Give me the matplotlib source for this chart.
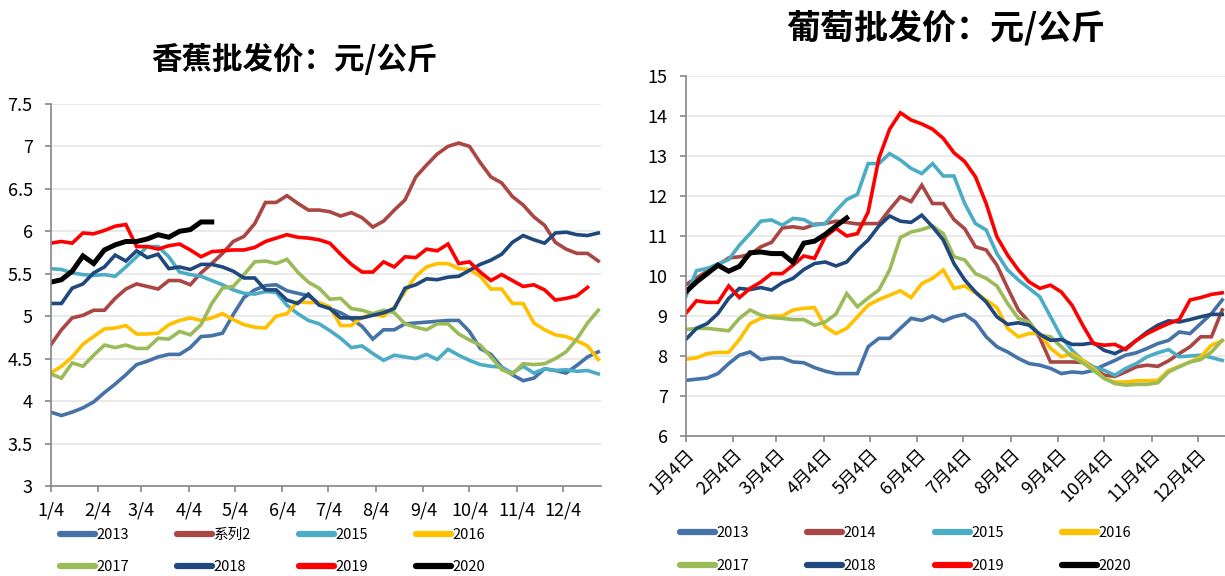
import numpy as np
import matplotlib.pyplot as plt
from matplotlib.ticker import FuncFormatter

plt.rcParams['font.family'] = ['Noto Sans CJK SC', 'DejaVu Sans']

# ---- data (weekly, starting at Jan 4) ----
years = ['2013', '2014', '2015', '2016', '2017', '2018', '2019', '2020']
banana_labels = ['2013', '系列2', '2015', '2016', '2017', '2018', '2019', '2020']
colors = ['#4572A7', '#AA4643', '#4BACC6', '#FFC000', '#9BBB59', '#1F497D', '#FF0000', '#000000']

month_days = [0, 31, 59, 90, 120, 151, 181, 212, 243, 273, 304, 334]
banana_ticks = ['1/4', '2/4', '3/4', '4/4', '5/4', '6/4', '7/4', '8/4', '9/4', '10/4', '11/4', '12/4']
grape_ticks = ['1月4日', '2月4日', '3月4日', '4月4日', '5月4日', '6月4日',
               '7月4日', '8月4日', '9月4日', '10月4日', '11月4日', '12月4日']

banana_2013 = [3.87, 3.83, 3.87, 3.92, 3.99, 4.10, 4.20, 4.31, 4.43, 4.47,
               4.52, 4.55, 4.55, 4.63, 4.76, 4.77, 4.80, 5.02, 5.22, 5.31,
               5.36, 5.37, 5.30, 5.27, 5.24, 5.15, 5.09, 5.04, 4.97, 4.88,
               4.73, 4.84, 4.84, 4.91, 4.92, 4.93, 4.94, 4.95, 4.95, 4.82,
               4.62, 4.55, 4.40, 4.31, 4.24, 4.27, 4.38, 4.36, 4.33, 4.42,
               4.52, 4.58]
banana_2014 = [4.66, 4.84, 4.98, 5.01, 5.07, 5.07, 5.21, 5.32, 5.38, 5.35,
               5.32, 5.42, 5.42, 5.37, 5.51, 5.62, 5.74, 5.88, 5.94, 6.09,
               6.34, 6.34, 6.42, 6.33, 6.25, 6.25, 6.23, 6.18, 6.22, 6.16,
               6.05, 6.12, 6.25, 6.37, 6.64, 6.78, 6.91, 7.00, 7.04, 7.00,
               6.81, 6.64, 6.57, 6.41, 6.31, 6.17, 6.07, 5.87, 5.79, 5.74,
               5.74, 5.65]
banana_2015 = [5.56, 5.55, 5.51, 5.49, 5.48, 5.49, 5.47, 5.58, 5.70, 5.82,
               5.82, 5.70, 5.52, 5.49, 5.47, 5.42, 5.37, 5.31, 5.27, 5.26,
               5.29, 5.28, 5.13, 5.03, 4.95, 4.91, 4.83, 4.74, 4.63, 4.65,
               4.56, 4.48, 4.54, 4.52, 4.50, 4.55, 4.49, 4.61, 4.54, 4.48,
               4.43, 4.41, 4.40, 4.33, 4.41, 4.33, 4.38, 4.36, 4.37, 4.35,
               4.36, 4.32]
banana_2016 = [4.33, 4.41, 4.52, 4.67, 4.76, 4.85, 4.86, 4.89, 4.79, 4.79,
               4.80, 4.90, 4.95, 4.98, 4.95, 4.98, 5.03, 4.96, 4.90, 4.87,
               4.86, 5.00, 5.03, 5.17, 5.16, 5.16, 5.11, 4.89, 4.89, 4.99,
               5.02, 5.00, 5.11, 5.29, 5.47, 5.58, 5.62, 5.62, 5.56, 5.55,
               5.47, 5.32, 5.32, 5.15, 5.15, 4.92, 4.84, 4.78, 4.76, 4.71,
               4.65, 4.49]
banana_2017 = [4.32, 4.27, 4.45, 4.41, 4.54, 4.66, 4.63, 4.66, 4.62, 4.62,
               4.74, 4.73, 4.82, 4.78, 4.90, 5.15, 5.33, 5.35, 5.49, 5.64,
               5.65, 5.62, 5.67, 5.52, 5.40, 5.33, 5.20, 5.21, 5.09, 5.07,
               5.03, 5.07, 5.04, 4.91, 4.87, 4.84, 4.91, 4.91, 4.79, 4.72,
               4.66, 4.52, 4.37, 4.32, 4.44, 4.43, 4.44, 4.50, 4.58, 4.73,
               4.92, 5.07]
banana_2018 = [5.15, 5.15, 5.33, 5.38, 5.51, 5.58, 5.72, 5.65, 5.77, 5.69,
               5.73, 5.56, 5.58, 5.55, 5.61, 5.61, 5.58, 5.53, 5.45, 5.45,
               5.31, 5.31, 5.19, 5.15, 5.26, 5.13, 5.09, 4.98, 4.98, 4.98,
               5.01, 5.04, 5.09, 5.33, 5.37, 5.44, 5.43, 5.46, 5.47, 5.54,
               5.61, 5.66, 5.73, 5.87, 5.95, 5.90, 5.86, 5.98, 5.99, 5.96,
               5.95, 5.98]
banana_2019 = [5.86, 5.88, 5.86, 5.98, 5.97, 6.01, 6.06, 6.08, 5.82, 5.82,
               5.79, 5.83, 5.85, 5.78, 5.70, 5.76, 5.77, 5.78, 5.78, 5.81,
               5.88, 5.92, 5.96, 5.93, 5.92, 5.90, 5.86, 5.73, 5.61, 5.52,
               5.52, 5.64, 5.58, 5.70, 5.69, 5.79, 5.77, 5.85, 5.62, 5.64,
               5.52, 5.42, 5.49, 5.42, 5.35, 5.37, 5.31, 5.19, 5.21, 5.24,
               5.34]
banana_2020 = [5.40, 5.43, 5.53, 5.71, 5.62, 5.78, 5.84, 5.88, 5.88, 5.91,
               5.96, 5.93, 6.00, 6.02, 6.11, 6.11]

grape_2013 = [7.39, 7.42, 7.45, 7.56, 7.81, 8.02, 8.10, 7.91, 7.95, 7.95,
              7.85, 7.83, 7.71, 7.62, 7.56, 7.56, 7.56, 8.23, 8.44, 8.44,
              8.69, 8.94, 8.89, 9.00, 8.87, 8.98, 9.04, 8.85, 8.48, 8.23,
              8.10, 7.94, 7.81, 7.77, 7.69, 7.56, 7.60, 7.58, 7.64, 7.77,
              7.89, 8.02, 8.08, 8.19, 8.31, 8.39, 8.60, 8.56, 8.81, 9.06,
              9.40]
grape_2014 = [9.78, 9.95, 10.12, 10.27, 10.45, 10.48, 10.54, 10.73, 10.84, 11.20,
              11.23, 11.19, 11.29, 11.31, 11.37, 11.34, 11.30, 11.31, 11.31, 11.66,
              11.98, 11.86, 12.27, 11.81, 11.81, 11.41, 11.18, 10.73, 10.65, 10.27,
              9.70, 9.15, 8.85, 8.45, 7.85, 7.85, 7.85, 7.84, 7.69, 7.52,
              7.49, 7.60, 7.73, 7.77, 7.74, 7.88, 8.06, 8.23, 8.48, 8.48,
              9.15]
grape_2015 = [9.48, 10.13, 10.19, 10.30, 10.41, 10.77, 11.06, 11.37, 11.40, 11.27,
              11.44, 11.41, 11.27, 11.31, 11.63, 11.91, 12.04, 12.81, 12.81, 13.06,
              12.90, 12.69, 12.56, 12.81, 12.50, 12.50, 11.81, 11.31, 11.15, 10.56,
              10.15, 9.90, 9.69, 9.48, 8.98, 8.48, 8.14, 7.89, 7.73, 7.64,
              7.52, 7.69, 7.81, 7.98, 8.08, 8.16, 7.98, 8.00, 8.02, 7.96,
              7.89]
grape_2016 = [7.92, 7.95, 8.06, 8.09, 8.09, 8.41, 8.81, 8.94, 9.00, 9.00,
              9.15, 9.19, 9.21, 8.73, 8.56, 8.69, 8.98, 9.27, 9.41, 9.52,
              9.63, 9.46, 9.81, 9.94, 10.15, 9.69, 9.75, 9.58, 9.40, 9.21,
              8.69, 8.48, 8.56, 8.56, 8.19, 7.98, 8.06, 7.89, 7.69, 7.44,
              7.35, 7.35, 7.38, 7.38, 7.39, 7.64, 7.74, 7.85, 7.98, 8.27,
              8.38]
grape_2017 = [8.66, 8.69, 8.69, 8.66, 8.63, 8.94, 9.15, 9.02, 8.96, 8.94,
              8.91, 8.91, 8.77, 8.85, 9.05, 9.56, 9.23, 9.45, 9.65, 10.15,
              10.96, 11.10, 11.16, 11.25, 11.06, 10.48, 10.40, 10.06, 9.94, 9.75,
              9.31, 8.94, 8.85, 8.52, 8.48, 8.23, 7.98, 7.83, 7.64, 7.44,
              7.31, 7.27, 7.29, 7.29, 7.33, 7.60, 7.73, 7.85, 7.91, 8.10,
              8.39]
grape_2018 = [8.41, 8.69, 8.81, 9.06, 9.44, 9.69, 9.66, 9.71, 9.65, 9.83,
              9.94, 10.16, 10.31, 10.35, 10.25, 10.35, 10.65, 10.90, 11.25, 11.50,
              11.37, 11.34, 11.52, 11.23, 10.90, 10.31, 9.90, 9.60, 9.35, 8.98,
              8.79, 8.83, 8.77, 8.54, 8.39, 8.41, 8.29, 8.29, 8.33, 8.14,
              8.06, 8.19, 8.39, 8.60, 8.77, 8.88, 8.85, 8.91, 8.98, 9.04,
              9.04]
grape_2019 = [9.06, 9.38, 9.34, 9.34, 9.75, 9.46, 9.69, 9.85, 10.06, 10.06,
              10.27, 10.50, 10.44, 10.98, 11.19, 11.00, 11.06, 11.60, 12.94, 13.67,
              14.08, 13.90, 13.80, 13.67, 13.44, 13.08, 12.86, 12.48, 11.81, 10.98,
              10.52, 10.15, 9.85, 9.69, 9.77, 9.60, 9.27, 8.77, 8.31, 8.27,
              8.29, 8.16, 8.39, 8.56, 8.69, 8.81, 8.91, 9.40, 9.46, 9.54,
              9.58]
grape_2020 = [9.60, 9.85, 10.06, 10.27, 10.12, 10.24, 10.58, 10.60, 10.56, 10.56,
              10.34, 10.82, 10.87, 11.04, 11.25, 11.45]

banana = [banana_2013, banana_2014, banana_2015, banana_2016,
          banana_2017, banana_2018, banana_2019, banana_2020]
grape = [grape_2013, grape_2014, grape_2015, grape_2016,
         grape_2017, grape_2018, grape_2019, grape_2020]


def draw_panel(ax, series, labels):
    handles = []
    for vals, lab, col in zip(series, labels, colors):
        lw = 3.6 if lab == '2020' else 2.6
        h, = ax.plot(np.arange(len(vals)), vals, color=col, lw=lw,
                     solid_joinstyle='miter', label=lab)
        handles.append(h)
    ax.grid(axis='y', color='#E6E6E6', lw=1.2)
    ax.set_axisbelow(True)
    for s in ['top', 'right']:
        ax.spines[s].set_visible(False)
    for s in ['left', 'bottom']:
        ax.spines[s].set_color('#868686')
        ax.spines[s].set_linewidth(1.2)
    ax.tick_params(axis='both', colors='#868686', length=4, width=1.2,
                   labelcolor='black', labelsize=13)
    ax.yaxis.set_major_formatter(FuncFormatter(lambda v, p: f'{v:g}'))
    ax.set_xticks(np.array(month_days) / 7)
    return handles


fig = plt.figure(figsize=(12.25, 5.76), dpi=100)

# banana panel
ax1 = fig.add_axes([0.0414, 0.1563, 0.4492, 0.6632])
h1 = draw_panel(ax1, banana, banana_labels)
ax1.set_ylim(3, 7.5)
ax1.set_yticks(np.arange(3, 7.51, 0.5))
ax1.set_xlim(0, 51.25)
ax1.set_xticklabels(banana_ticks)
ax1.tick_params(axis='y', pad=9)
ax1.tick_params(axis='x', pad=7)

# grape panel
ax2 = fig.add_axes([0.5598, 0.2431, 0.4402, 0.6250])
h2 = draw_panel(ax2, grape, years)
ax2.set_ylim(6, 15)
ax2.set_yticks(np.arange(6, 15.1, 1))
ax2.set_xlim(0, 50.26)
ax2.set_xticklabels(grape_ticks, rotation=45, ha='right', va='top',
                    rotation_mode='anchor')
ax2.tick_params(axis='y', pad=9)
ax2.tick_params(axis='x', pad=3)

fig.text(294 / 1225, 1 - 60 / 576, '香蕉批发价：元/公斤', ha='center', va='center',
         fontsize=22, fontweight='bold')
fig.text(946 / 1225, 1 - 28 / 576, '葡萄批发价：元/公斤', ha='center', va='center',
         fontsize=24.5, fontweight='bold')

order = [0, 4, 1, 5, 2, 6, 3, 7]
for h, x0, y0, cs, ls in [(h1, 60 / 1225, 1 - 528 / 576, 3.3, 1.25),
                          (h2, 680 / 1225, 1 - 526 / 576, 4.0, 1.3)]:
    leg = fig.legend([h[i] for i in order], [h[i].get_label() for i in order],
                     loc='upper left', bbox_to_anchor=(x0, y0), ncol=4,
                     frameon=False, fontsize=10.5, handlelength=2.4,
                     handletextpad=0.1, columnspacing=cs, labelspacing=ls,
                     borderpad=0, borderaxespad=0)
    for ln in leg.get_lines():
        ln.set_linewidth(4.5)
        ln.set_solid_capstyle('round')

fig.savefig('out.png', dpi=100)
